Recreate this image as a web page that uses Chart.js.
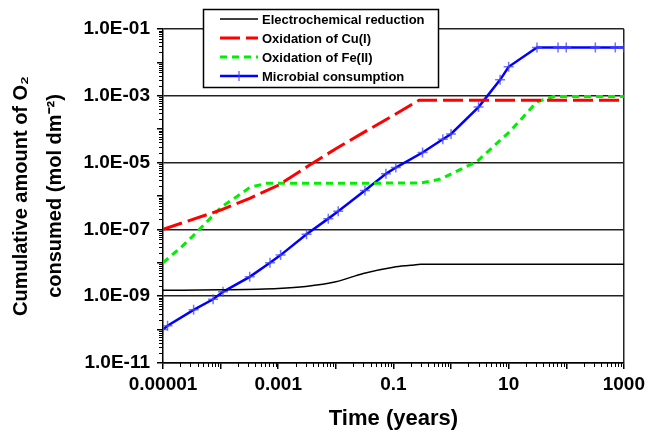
<!DOCTYPE html>
<html>
<head>
<meta charset="utf-8">
<script src="https://cdn.jsdelivr.net/npm/chart.js@4/dist/chart.umd.min.js"></script>
<style>
	body { margin: 0; background: #fff; }
	#wrap { width: 649px; height: 434px; }
</style>
</head>
<body>
<div id="wrap"><canvas id="myChart" width="649" height="434"></canvas></div>
<script>
// time in years, O2 in mol dm-2
const elecTime = [1e-5, 1e-4, 1e-3, 3e-3, 0.01, 0.03, 0.1, 0.2, 0.3, 1, 10, 100, 1000];
const elecO2 = [1.5e-9, 1.55e-9, 1.7e-9, 1.95e-9, 2.7e-9, 4.8e-9, 7.4e-9, 8.4e-9, 9.0e-9, 9.0e-9, 9.0e-9, 9.0e-9, 9.0e-9];

const cuTime = [1e-5, 1e-4, 3.2e-4, 1e-3, 3.2e-3, 0.01, 0.03, 0.1, 0.28, 1, 10, 100, 1000];
const cuO2 = [1.0e-7, 3.8e-7, 8.5e-7, 2.1e-6, 7.6e-6, 2.6e-5, 7.9e-5, 2.6e-4, 7.4e-4, 7.4e-4, 7.4e-4, 7.4e-4, 7.4e-4];

const feTime = [1e-5, 2.1e-5, 3.2e-5, 1.05e-4, 1.9e-4, 3.2e-4, 6.3e-4, 0.01, 0.3, 0.65, 2.8, 10.5, 31, 60, 100, 1000];
const feO2 = [1.0e-8, 3.0e-8, 6.0e-8, 4.8e-7, 9.5e-7, 1.8e-6, 2.4e-6, 2.4e-6, 2.45e-6, 3.2e-6, 1.07e-5, 8.5e-5, 6.6e-4, 9.5e-4, 9.5e-4, 9.5e-4];

const bioTime = [1e-5, 1.2e-5, 3.4e-5, 7.4e-5, 1.1e-4, 3.2e-4, 7.2e-4, 1.1e-3, 3.1e-3, 7.4e-3, 0.011, 0.032, 0.074, 0.11, 0.32, 0.72, 1.0, 3.0, 7.1, 10, 31, 72, 100, 320, 710, 1000];
const bioO2 = [1.0e-10, 1.3e-10, 3.9e-10, 8.1e-10, 1.35e-9, 3.8e-9, 1.0e-8, 1.7e-8, 7.2e-8, 2.1e-7, 3.5e-7, 1.45e-6, 4.6e-6, 7.1e-6, 2.0e-5, 5.0e-5, 7.2e-5, 4.6e-4, 3.0e-3, 7.4e-3, 2.8e-2, 2.8e-2, 2.8e-2, 2.8e-2, 2.8e-2, 2.8e-2];

const seriesLabels = ['Electrochemical reduction', 'Oxidation of Cu(I)', 'Oxidation of Fe(II)', 'Microbial consumption'];

// decade exponents for the axes
const xDecades = [-5, -4, -3, -2, -1, 0, 1, 2, 3];
const yDecades = [-11, -10, -9, -8, -7, -6, -5, -4, -3, -2, -1];

const fontFam = "'Liberation Sans', Arial, sans-serif";

function toPoints(xs, ys) {
	return xs.map((x, i) => ({ x: x, y: ys[i] }));
}
function expOf(v) {
	return Math.round(Math.log10(v));
}

// minor tick marks (2..9 in each decade) + legend box
const extras = {
	id: 'extras',
	afterDatasetsDraw(chart) {
		const ctx = chart.ctx;
		const xs = chart.scales.x, ys = chart.scales.y;
		const area = chart.chartArea;
		ctx.save();
		ctx.strokeStyle = '#000';
		ctx.lineWidth = 1;
		ctx.beginPath();
		for (let n = -11; n < -1; n++) {
			for (let k = 2; k < 10; k++) {
				let py = Math.round(ys.getPixelForValue(k * Math.pow(10, n))) + 0.5;
				ctx.moveTo(area.left - 4, py);
				ctx.lineTo(area.left, py);
			}
		}
		for (let n = -5; n < 3; n++) {
			for (let k = 2; k < 10; k++) {
				let px = Math.round(xs.getPixelForValue(k * Math.pow(10, n))) + 0.5;
				ctx.moveTo(px, area.bottom);
				ctx.lineTo(px, area.bottom + 4);
			}
		}
		ctx.stroke();
		ctx.restore();
	},
	afterDraw(chart) {
		const ctx = chart.ctx;
		const bx = 203, by = 9, bw = 235, bh = 78;
		ctx.save();
		ctx.fillStyle = '#fff';
		ctx.fillRect(bx, by, bw, bh);
		ctx.strokeStyle = '#000';
		ctx.lineWidth = 1.5;
		ctx.strokeRect(bx + 0.5, by + 0.5, bw, bh);
		chart.data.datasets.forEach((ds, i) => {
			let y = 19 + i * 19;
			ctx.strokeStyle = ds.borderColor;
			ctx.lineWidth = ds.borderWidth;
			ctx.setLineDash(ds.borderDash || []);
			ctx.beginPath();
			ctx.moveTo(220, y);
			ctx.lineTo(258, y);
			ctx.stroke();
			ctx.setLineDash([]);
			if (ds.pointRadius > 0) {
				ctx.strokeStyle = ds.pointBorderColor;
				ctx.lineWidth = ds.pointBorderWidth;
				ctx.beginPath();
				ctx.moveTo(239, y - ds.pointRadius);
				ctx.lineTo(239, y + ds.pointRadius);
				ctx.stroke();
			}
			ctx.fillStyle = '#000';
			ctx.font = 'bold 13px ' + fontFam;
			ctx.textBaseline = 'middle';
			ctx.fillText(ds.label, 262, y + 1);
		});
		ctx.restore();
	}
};

const canvas = document.getElementById('myChart').getContext('2d');

const o2Chart = {
	type: 'line',
	data: {
		datasets: [
			{
				label: seriesLabels[0],
				data: toPoints(elecTime, elecO2),
				borderColor: '#000000',
				borderWidth: 1.5,
				pointRadius: 0,
				cubicInterpolationMode: 'monotone',
			},
			{
				label: seriesLabels[1],
				data: toPoints(cuTime, cuO2),
				borderColor: '#ff0000',
				borderWidth: 3,
				borderDash: [20, 6],
				pointRadius: 0,
			},
			{
				label: seriesLabels[2],
				data: toPoints(feTime, feO2),
				borderColor: '#00ee00',
				borderWidth: 3,
				borderDash: [7, 5],
				pointRadius: 0,
			},
			{
				label: seriesLabels[3],
				data: toPoints(bioTime, bioO2),
				borderColor: '#0000ff',
				borderWidth: 2.5,
				pointStyle: 'cross',
				pointRadius: 5,
				pointBorderWidth: 1.5,
				pointBorderColor: 'rgba(70,70,255,0.75)',
			},
		],
	},
	options: {
		responsive: false,
		animation: false,
		layout: { padding: { top: 29, right: 25, left: 0, bottom: 0 } },
		elements: { line: { tension: 0 } },
		plugins: {
			legend: { display: false },
			tooltip: { enabled: false },
		},
		scales: {
			x: {
				type: 'logarithmic',
				min: 1e-5,
				max: 1000,
				afterBuildTicks: (scale) => {
					scale.ticks = xDecades.map((n) => ({ value: Number('1e' + n) }));
				},
				afterFit: (scale) => { scale.height = 71; },
				grid: {
					color: (c) => (c.tick && expOf(c.tick.value) === 3 ? '#222' : 'transparent'),
					lineWidth: 1.5,
					tickColor: '#000',
					tickLength: 6,
				},
				border: { color: '#000', width: 1.5 },
				ticks: {
					autoSkip: false,
					maxRotation: 0,
					padding: 4,
					color: '#000',
					font: { family: fontFam, size: 19, weight: 'bold' },
					callback: function (value) {
						let n = expOf(value);
						if (Math.abs(n) % 2 !== 1) return '';
						return n < 0 ? value.toFixed(-n) : String(Math.round(value));
					},
				},
				title: {
					display: true,
					text: 'Time (years)',
					color: '#000',
					font: { family: fontFam, size: 22, weight: 'bold' },
					padding: { top: 0, bottom: 2 },
				},
			},
			y: {
				type: 'logarithmic',
				min: 1e-11,
				max: 1e-1,
				afterBuildTicks: (scale) => {
					scale.ticks = yDecades.map((n) => ({ value: Number('1e' + n) }));
				},
				afterFit: (scale) => { scale.width = 163; },
				grid: {
					color: (c) => (c.tick && Math.abs(expOf(c.tick.value)) % 2 === 1 ? '#222' : 'transparent'),
					lineWidth: 1.5,
					tickColor: '#000',
					tickLength: 6,
				},
				border: { color: '#000', width: 1.5 },
				ticks: {
					autoSkip: false,
					padding: 7,
					color: '#000',
					font: { family: fontFam, size: 19, weight: 'bold' },
					callback: function (value) {
						let n = expOf(value);
						if (Math.abs(n) % 2 !== 1) return '';
						return '1.0E-' + String(-n).padStart(2, '0');
					},
				},
				title: {
					display: true,
					text: ['Cumulative amount of O\u2082', 'consumed (mol dm\u207B\u00B2)'],
					color: '#000',
					font: { family: fontFam, size: 20, weight: 'bold', lineHeight: 1.7 },
					padding: { top: 4, bottom: 0 },
				},
			},
		},
	},
	plugins: [extras],
};
let myChart = new Chart(canvas, o2Chart);
</script>
</body>
</html>
